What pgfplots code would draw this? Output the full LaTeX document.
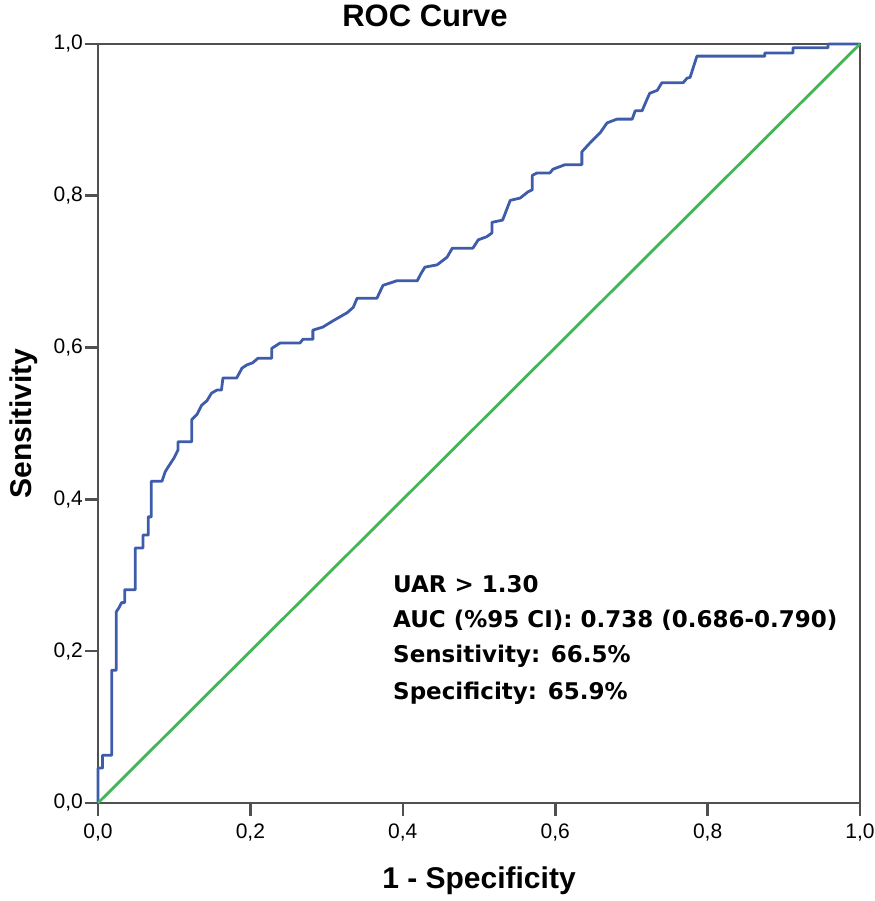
\documentclass[border=0pt]{standalone}
\usepackage{fontspec}
\setmainfont{Liberation Sans}
\newfontfamily\dejavu{DejaVu Sans}
\usepackage{pgfplots}
\pgfplotsset{compat=1.18}

\definecolor{rocblue}{RGB}{62,92,170}
\definecolor{rocgreen}{RGB}{64,182,84}
\definecolor{framegray}{RGB}{80,80,80}

\begin{document}
\begin{tikzpicture}
\begin{axis}[
    at={(0,0)}, anchor=south west,
    scale only axis,
    width=762pt, height=759pt,
    xmin=0, xmax=1, ymin=0, ymax=1,
    xtick={0,0.2,0.4,0.6,0.8,1},
    ytick={0,0.2,0.4,0.6,0.8,1},
    xticklabels={{0,0},{0,2},{0,4},{0,6},{0,8},{1,0}},
    yticklabels={{0,0},{0,2},{0,4},{0,6},{0,8},{1,0}},
    xtick pos=bottom, ytick pos=left,
    tick align=outside,
    major tick length=13pt,
    axis line style={draw=framegray, line width=2.6pt},
    tick style={draw=framegray, line width=2.6pt},
    tick label style={font=\fontsize{21}{25}\selectfont, inner sep=0pt},
    xticklabel style={anchor=north, yshift=-8pt},
    yticklabel style={anchor=east, xshift=-2pt},
    clip=false,
]
% frame
\draw[framegray, line width=2.8pt] (rel axis cs:0,0) rectangle (rel axis cs:1,1);
% ROC curve
\addplot[rocblue, line width=2.8pt, line join=round] coordinates {
(0,0) (0,0.046) (0.006,0.046) (0.006,0.063) (0.018,0.063) (0.018,0.175)
(0.024,0.175) (0.024,0.252) (0.028,0.258) (0.031,0.264) (0.035,0.264)
(0.035,0.281) (0.049,0.281) (0.049,0.336) (0.059,0.336) (0.059,0.353)
(0.066,0.353) (0.066,0.377) (0.070,0.377) (0.070,0.424) (0.084,0.424)
(0.088,0.436) (0.091,0.441) (0.100,0.455) (0.105,0.465) (0.105,0.476)
(0.123,0.476) (0.123,0.505) (0.130,0.512) (0.136,0.524) (0.143,0.530)
(0.149,0.540) (0.156,0.544) (0.162,0.544) (0.164,0.560) (0.182,0.560)
(0.189,0.573) (0.195,0.577) (0.203,0.580) (0.210,0.586) (0.228,0.586)
(0.228,0.599) (0.239,0.606) (0.265,0.606) (0.269,0.611) (0.282,0.611)
(0.282,0.623) (0.295,0.627) (0.308,0.635) (0.327,0.646) (0.335,0.653)
(0.340,0.665) (0.366,0.665) (0.374,0.682) (0.392,0.688) (0.419,0.688)
(0.423,0.696) (0.429,0.706) (0.445,0.709) (0.458,0.719) (0.465,0.731)
(0.492,0.731) (0.499,0.742) (0.510,0.746) (0.517,0.751) (0.517,0.765)
(0.531,0.768) (0.541,0.794) (0.554,0.797) (0.564,0.805) (0.570,0.808)
(0.570,0.827) (0.576,0.830) (0.593,0.830) (0.597,0.835) (0.613,0.841)
(0.635,0.841) (0.635,0.858) (0.646,0.870) (0.659,0.883) (0.668,0.896)
(0.681,0.901) (0.701,0.901) (0.705,0.912) (0.714,0.912) (0.720,0.926)
(0.724,0.935) (0.734,0.939) (0.740,0.949) (0.768,0.949) (0.773,0.955)
(0.777,0.956) (0.786,0.984) (0.875,0.984) (0.875,0.988) (0.912,0.988)
(0.912,0.995) (0.958,0.995) (0.958,1.0) (1,1)
};
% reference line
\addplot[rocgreen, line width=2.8pt] coordinates {(0,0) (1,1)};
\end{axis}

% title and axis labels
\node[anchor=base, font=\fontsize{31}{36}\selectfont\bfseries] at (327pt,776pt) {ROC Curve};
\node[anchor=base, font=\fontsize{30}{36}\selectfont\bfseries] at (381pt,-85pt) {1 - Specificity};
\node[anchor=base, rotate=90, font=\fontsize{30}{36}\selectfont\bfseries] at (-66pt,379.5pt) {Sensitivity};

% annotation
\node[anchor=base west, inner sep=0pt, font=\dejavu\fontsize{23}{35.7}\selectfont\bfseries] at (295pt,210pt) {UAR > 1.30};
\node[anchor=base west, inner sep=0pt, font=\dejavu\fontsize{23}{35.7}\selectfont\bfseries] at (295pt,175pt) {AUC (\%95 CI): 0.738 (0.686-0.790)};
\node[anchor=base west, inner sep=0pt, font=\dejavu\fontsize{23}{35.7}\selectfont\bfseries] at (295pt,140pt) {Sensitivity: 66.5\%};
\node[anchor=base west, inner sep=0pt, font=\dejavu\fontsize{23}{35.7}\selectfont\bfseries] at (295pt,103pt) {Specificity: 65.9\%};

\useasboundingbox (-98pt,-98pt) rectangle (776pt,803pt);
\end{tikzpicture}
\end{document}
